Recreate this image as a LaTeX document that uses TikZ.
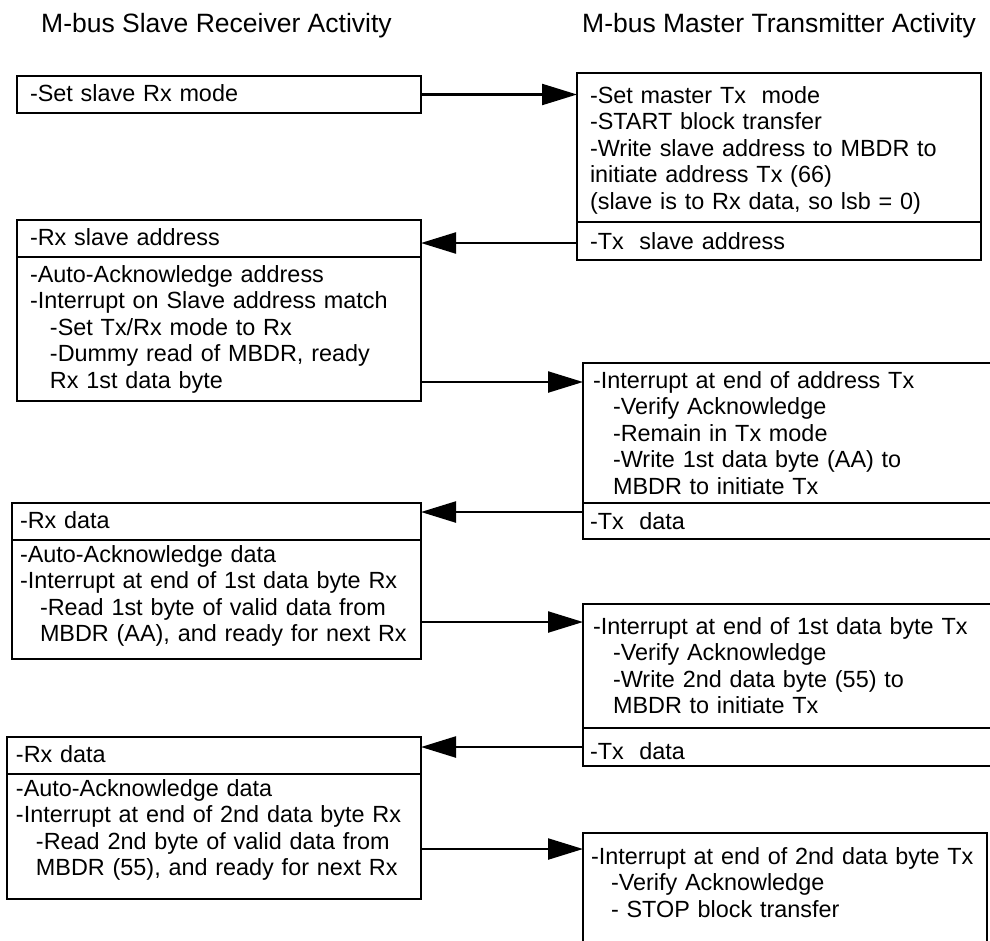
\documentclass[tikz,border=0pt]{standalone}
\usepackage{fontspec}
\setmainfont{Liberation Sans}
\usetikzlibrary{arrows.meta}
\newcommand{\indln}{\hspace*{20pt}}
\tikzset{
  actbox/.style={draw, line width=2.8pt, anchor=north west, align=left, inner ysep=0pt, outer sep=0pt, font=\fontsize{23.4}{26.6}\selectfont},
  coltitle/.style={anchor=base west, inner sep=0pt, font=\fontsize{26.5}{30}\selectfont},
  flow/.style={line width=2.3pt, -{Triangle[length=35pt,width=21pt]}}
}
\begin{document}
\begin{tikzpicture}[x=1pt, y=-1pt]
 \useasboundingbox (0,0) rectangle (990,940);
 \clip (0,0) rectangle (990,940);
 \node[coltitle] (stitle) at ( 41,32) {M-bus Slave Receiver Activity};
 \node[coltitle] (mtitle) at (582,32) {M-bus Master Transmitter Activity};

 \node[actbox, text width=378pt, inner xsep=13pt, text height=25pt, text depth=12pt] (s1) at (17,76) {-Set slave Rx mode};
 \node[actbox, text width=378pt, inner xsep=13pt, text height=25pt, text depth=12pt] (s2a) at (17,220) {-Rx slave address};
 \node[actbox, text width=378pt, inner xsep=13pt, text height=25pt, text depth=119pt] (s2b) at (17,257) {-Auto-Acknowledge address\\ -Interrupt on Slave address match\\ \indln -Set Tx/Rx mode to Rx\\ \indln -Dummy read of MBDR, ready\\ \indln Rx 1st data byte};
 \node[actbox, text width=393pt, inner xsep=8pt, text height=25pt, text depth=12pt] (s3a) at (12,503) {-Rx data};
 \node[actbox, text width=393pt, inner xsep=8pt, text height=22pt, text depth=97pt] (s3b) at (12,540) {-Auto-Acknowledge data\\ -Interrupt at end of 1st data byte Rx\\ \indln -Read 1st byte of valid data from\\ \indln MBDR (AA), and ready for next Rx};
 \node[actbox, text width=396pt, inner xsep=9pt, text height=25pt, text depth=12pt] (s4a) at (7,737) {-Rx data};
 \node[actbox, text width=396pt, inner xsep=9pt, text height=22pt, text depth=103pt] (s4b) at (7,774) {-Auto-Acknowledge data\\ -Interrupt at end of 2nd data byte Rx\\ \indln -Read 2nd byte of valid data from\\ \indln MBDR (55), and ready for next Rx};

 \node[actbox, text width=378pt, inner xsep=13pt, text height=30pt, text depth=119pt] (m1a) at (577,73) {-Set master Tx~~mode\\ -START block transfer\\ -Write slave address to MBDR to\\ initiate address Tx (66)\\ (slave is to Rx data, so lsb = 0)};
 \node[actbox, text width=378pt, inner xsep=13pt, text height=27pt, text depth=11pt] (m1b) at (577,222) {-Tx~~slave address};
 \node[actbox, text width=397pt, inner xsep=10pt, text height=25pt, text depth=115pt] (m2a) at (583,363) {-Interrupt at end of address Tx\\ \indln -Verify Acknowledge\\ \indln -Remain in Tx mode\\ \indln -Write 1st data byte (AA) to\\ \indln MBDR to initiate Tx};
 \node[actbox, text width=403pt, inner xsep=7pt, text height=26pt, text depth=10pt] (m2b) at (583,503) {-Tx~~data};
 \node[actbox, text width=397pt, inner xsep=10pt, text height=30pt, text depth=94pt] (m3a) at (583,604) {-Interrupt at end of 1st data byte Tx\\ \indln -Verify Acknowledge\\ \indln -Write 2nd data byte (55) to\\ \indln MBDR to initiate Tx};
 \node[actbox, text width=403pt, inner xsep=7pt, text height=31pt, text depth=7pt] (m3b) at (583,728) {-Tx~~data};
 \node[actbox, text width=388pt, inner xsep=8pt, text height=31pt, text depth=96pt] (m4) at (583,833) {-Interrupt at end of 2nd data byte Tx\\ \indln -Verify Acknowledge\\ \indln - STOP block transfer};

 \path (s1.east) edge [flow] (s1.east -| m1a.west);
 \path ([yshift=-2pt]m1b.west) edge [flow] ([yshift=-2pt]m1b.west -| s2a.east);
 \path ([yshift=19pt]s2b.south east) edge [flow] ([yshift=19pt]s2b.south east -| m2a.west);
 \path ([yshift=9pt]m2b.west) edge [flow] ([yshift=9pt]m2b.west -| s3a.east);
 \path ([yshift=37pt]s3b.south east) edge [flow] ([yshift=37pt]s3b.south east -| m3a.west);
 \path (m3b.west) edge [flow] (m3b.west -| s4a.east);
 \path ([yshift=50pt]s4b.south east) edge [flow] ([yshift=50pt]s4b.south east -| m4.west);
\end{tikzpicture}
\end{document}
